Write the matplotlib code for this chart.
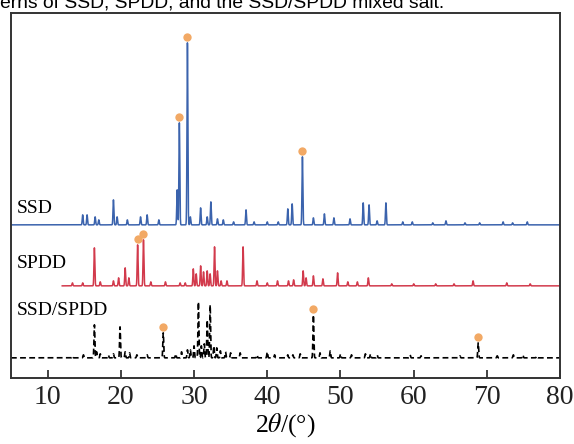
import matplotlib.pyplot as plt
import numpy as np

plt.rcParams['font.family'] = 'Liberation Serif'
plt.rcParams['mathtext.fontset'] = 'stix'

# peak positions (2theta) and heights (arbitrary units)
ssd_pos = [14.8, 15.4, 16.5, 17.0, 19.0, 19.5, 20.9, 22.7, 23.6, 25.2, 27.7, 28.0, 29.1, 29.5,
           30.9, 31.8, 32.3, 33.2, 34.0, 35.4, 37.1, 38.2, 40.0, 41.5, 42.8, 43.4, 44.8, 46.3,
           47.8, 49.1, 51.3, 53.1, 53.9, 55.0, 56.2, 58.5, 59.8, 62.6, 64.4, 67.0, 69.0, 72.2,
           73.5, 75.5]
ssd_int = [10, 10, 8, 5, 25, 8, 5, 8, 10, 5, 35, 102, 182, 8,
           17, 8, 23, 6, 5, 3, 15, 3, 3, 3, 16, 21, 68, 7,
           11, 7, 6, 22, 20, 4, 22, 3, 3, 2, 4, 2, 2, 3,
           2, 3]

spdd_pos = [13.4, 14.8, 16.4, 17.2, 19.0, 19.7, 20.6, 21.1, 22.3, 23.1, 24.1, 26.1, 28.1, 28.8,
            29.9, 30.3, 30.9, 31.3, 31.8, 32.2, 32.8, 33.2, 33.7, 34.5, 36.7, 38.6, 40.0, 41.4,
            42.9, 43.6, 44.9, 45.3, 46.3, 47.6, 49.6, 51.0, 52.3, 53.8, 57.0, 60.0, 63.0, 65.5,
            68.1, 72.7, 75.9]
spdd_int = [3, 3, 38, 4, 5, 8, 18, 8, 41, 46, 4, 4, 3, 3,
            17, 12, 20, 14, 15, 12, 39, 15, 5, 5, 39, 5, 3, 5,
            5, 6, 15, 8, 10, 7, 13, 4, 4, 8, 2, 2, 2, 2,
            5, 3, 2]

mix_pos = [13.4, 14.9, 16.4, 16.7, 17.2, 18.3, 19.0, 19.9, 20.6, 21.2, 22.2, 23.6, 25.8, 27.5,
           28.3, 29.1, 29.5, 30.0, 30.6, 31.0, 31.4, 31.8, 32.2, 32.7, 33.1, 33.6, 34.3, 35.0,
           36.3, 38.6, 40.0, 41.0, 42.8, 43.5, 44.5, 46.3, 47.2, 48.6, 50.0, 51.5, 53.4, 54.1,
           55.0, 59.5, 61.0, 66.3, 68.8, 71.4, 73.6, 74.9, 76.8]
mix_int = [2, 3, 33, 6, 4, 3, 4, 31, 6, 5, 3, 3, 25, 4,
           6, 8, 8, 12, 56, 12, 14, 38, 53, 12, 10, 7, 6, 5,
           5, 3, 6, 3, 3, 3, 4, 43, 5, 7, 4, 3, 4, 4,
           3, 3, 2, 2, 15, 2, 3, 3, 2]

# offsets of each pattern
ssd_base = 153
spdd_base = 92
mix_base = 20

# marked peaks (dots)
ssd_marks = [28.0, 29.1, 44.8]
spdd_marks = [22.3, 23.1]
mix_marks = [25.8, 46.3, 68.8]


def pattern(x, pos, inten, w=0.06):
    y = np.zeros_like(x)
    for p, h in zip(pos, inten):
        y += h * np.exp(-0.5 * ((x - p) / w) ** 2)
    return y


x = np.arange(5.0, 80.0, 0.01)
x_spdd = x[x >= 12.0]

y_ssd = ssd_base + pattern(x, ssd_pos, ssd_int)
y_spdd = spdd_base + pattern(x_spdd, spdd_pos, spdd_int)
y_mix = mix_base + pattern(x, mix_pos, mix_int)

fig = plt.figure(figsize=(5.74, 4.44), dpi=100)
ax = fig.add_axes([0.019, 0.149, 0.957, 0.822])

ax.plot(x, y_ssd, color="#3b63ad", lw=1.1)
ax.plot(x_spdd, y_spdd, color="#d23a4c", lw=1.1)
ax.plot(x, y_mix, color="black", lw=1.2, dashes=(3.5, 2))

dot_color = "#f2a965"
for marks, pos, inten, base in [(ssd_marks, ssd_pos, ssd_int, ssd_base),
                                (spdd_marks, spdd_pos, spdd_int, spdd_base),
                                (mix_marks, mix_pos, mix_int, mix_base)]:
    for m in marks:
        h = inten[pos.index(m)]
        ax.plot(m, base + h + 6, "o", color=dot_color, ms=6, mec="none")

ax.text(5.8, 165, "SSD", fontsize=14, va="baseline")
ax.text(5.8, 110, "SPDD", fontsize=14, va="baseline")
ax.text(5.8, 63, "SSD/SPDD", fontsize=14, va="baseline")

ax.set_xlim(5, 80)
ax.set_ylim(0, 365)
ax.set_yticks([])
ax.set_xticks([10, 20, 30, 40, 50, 60, 70, 80])
ax.tick_params(axis="x", direction="in", length=6, width=1.2, labelsize=20, pad=5, colors="#222222")
for s in ax.spines.values():
    s.set_linewidth(1.4)
    s.set_color("#333333")
ax.set_xlabel("2$\\theta$/(°)", fontsize=18.5, labelpad=1)

# caption from the source page, cut off at the top edge
fig.text(0.0, 1 - 8 / 444, "erns of SSD, SPDD, and the SSD/SPDD mixed salt.",
         fontsize=13.9, family="Liberation Sans", va="baseline", ha="left")

fig.savefig("out.png", dpi=100)
